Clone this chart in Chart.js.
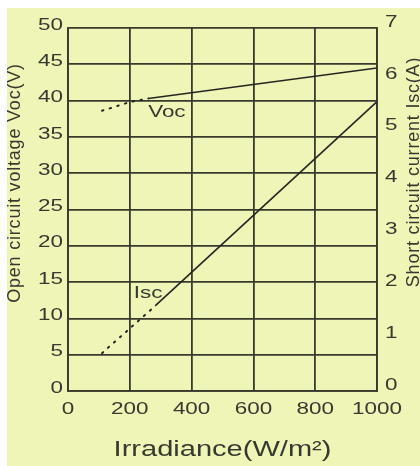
<!DOCTYPE html>
<html>
<head>
<meta charset="utf-8">
<script src="https://cdn.jsdelivr.net/npm/chart.js@4/dist/chart.umd.min.js"></script>
<style>
  html, body { margin: 0; padding: 0; background: #ffffff; }
  #wrap { position: relative; width: 420px; height: 466px; }
</style>
</head>
<body>
<div id="wrap"><canvas id="c"></canvas></div>
<script>
// ---- data ----
const xTicks = [0, 200, 400, 600, 800, 1000];                 // Irradiance (W/m²)
const vocTicks = [0, 5, 10, 15, 20, 25, 30, 35, 40, 45, 50];  // left axis (V)
const iscTicks = [0, 1, 2, 3, 4, 5, 6, 7];                    // right axis (A)

const vocSolidX = [260, 1000];
const vocSolidY = [40.3, 44.5];
const vocDotX = [110, 200, 260];
const vocDotY = [38.6, 39.8, 40.3];

const iscSolidX = [282, 1000];
const iscSolidY = [1.64, 5.58];
const iscDotX = [110, 282];
const iscDotY = [0.73, 1.64];

const seriesLabels = [
  { text: 'Voc', x: 320, y: 38.4, axis: 'y' },
  { text: 'Isc', x: 259, y: 1.89, axis: 'y2' }
];

const leftTitle = 'Open circuit voltage Voc(V)';
const rightTitle = 'Short circuit current Isc(A)';
const bottomTitle = 'Irradiance(W/m\u00B2)';

// ---- styling ----
const BG = '#eff5b6';
const GRID = '#3a3a2c';
const TXT = '#38382f';
const LINE = '#262620';
const FONT = "'Liberation Sans', Arial, sans-serif";
let textStretch = 1.32;   // reference text is drawn horizontally wide

const pts = (xs, ys) => xs.map((x, i) => ({ x: x, y: ys[i] }));

function patchText(ctx) {
  if (ctx.__patched) return;
  const orig = ctx.fillText.bind(ctx);
  ctx.fillText = function (text, x, y, maxW) {
    if (textStretch === 1) return orig(text, x, y);
    ctx.save();
    ctx.translate(x, y);
    ctx.scale(textStretch, 1);
    orig(text, 0, 0);
    ctx.restore();
  };
  ctx.__patched = true;
}

const bgPlugin = {
  id: 'bg',
  beforeDraw(chart) {
    const ctx = chart.ctx;
    patchText(ctx);
    ctx.save();
    ctx.fillStyle = '#ffffff';
    ctx.fillRect(0, 0, chart.width, chart.height);
    ctx.fillStyle = BG;
    ctx.fillRect(7, 8, chart.width - 7, chart.height - 8);
    ctx.restore();
  },
  afterDatasetsDraw(chart) {
    const ctx = chart.ctx;
    const xs = chart.scales.x;
    ctx.save();
    ctx.fillStyle = TXT;
    ctx.font = '17px ' + FONT;
    ctx.textAlign = 'center';
    ctx.textBaseline = 'middle';
    seriesLabels.forEach(l => {
      const px = xs.getPixelForValue(l.x);
      const py = chart.scales[l.axis].getPixelForValue(l.y);
      ctx.fillText(l.text, px, py);
    });
    ctx.restore();
  },
  afterDraw(chart) {
    const ctx = chart.ctx;
    const prev = textStretch;
    textStretch = 1;
    ctx.save();
    ctx.fillStyle = TXT;
    ctx.font = '18px ' + FONT;
    ctx.letterSpacing = '0.8px';
    ctx.textAlign = 'center';
    ctx.textBaseline = 'middle';
    ctx.save();
    ctx.translate(15, 183);
    ctx.rotate(-Math.PI / 2);
    ctx.fillText(leftTitle, 0, 0);
    ctx.restore();
    ctx.save();
    ctx.translate(414, 172);
    ctx.rotate(-Math.PI / 2);
    ctx.fillText(rightTitle, 0, 0);
    ctx.restore();
    ctx.restore();
    textStretch = prev;
  }
};

const plainTick = v => String(v);

new Chart(document.getElementById('c'), {
  type: 'line',
  data: {
    datasets: [
      { label: 'Voc', data: pts(vocSolidX, vocSolidY), yAxisID: 'y',
        borderColor: LINE, borderWidth: 1.6, pointRadius: 0, fill: false, tension: 0 },
      { label: 'Voc (extrapolated)', data: pts(vocDotX, vocDotY), yAxisID: 'y',
        borderColor: LINE, borderWidth: 2, borderDash: [1.5, 6.5], borderCapStyle: 'round',
        pointRadius: 0, fill: false, tension: 0 },
      { label: 'Isc', data: pts(iscSolidX, iscSolidY), yAxisID: 'y2',
        borderColor: LINE, borderWidth: 1.6, pointRadius: 0, fill: false, tension: 0 },
      { label: 'Isc (extrapolated)', data: pts(iscDotX, iscDotY), yAxisID: 'y2',
        borderColor: LINE, borderWidth: 2, borderDash: [1.5, 6.5], borderCapStyle: 'round',
        pointRadius: 0, fill: false, tension: 0 }
    ]
  },
  options: {
    responsive: true,
    maintainAspectRatio: false,
    animation: false,
    events: [],
    layout: { padding: { top: 28, left: 0, right: 0, bottom: 0 } },
    plugins: { legend: { display: false }, tooltip: { enabled: false }, title: { display: false } },
    scales: {
      x: {
        type: 'linear', position: 'bottom', min: 0, max: 1000,
        afterBuildTicks: s => { s.ticks = xTicks.map(v => ({ value: v })); },
        afterFit: s => { s.height = 75; },
        grid: { color: GRID, lineWidth: 1.8, drawTicks: false },
        border: { color: GRID, width: 1.8 },
        ticks: { color: TXT, font: { family: FONT, size: 17 }, padding: 8, autoSkip: false,
                 maxRotation: 0, callback: plainTick },
        title: { display: true, text: bottomTitle, color: TXT,
                 font: { family: FONT, size: 22 }, padding: { top: 0, bottom: 3 } }
      },
      y: {
        type: 'linear', position: 'left', min: 0, max: 50,
        afterBuildTicks: s => { s.ticks = vocTicks.map(v => ({ value: v })); },
        afterFit: s => { s.width = 68; },
        grid: { color: GRID, lineWidth: 1.8, drawTicks: false },
        border: { color: GRID, width: 1.8 },
        ticks: { color: TXT, font: { family: FONT, size: 17 }, padding: 5, autoSkip: false,
                 labelOffset: -3, callback: plainTick }
      },
      y2: {
        type: 'linear', position: 'right', min: 0, max: 7,
        afterBuildTicks: s => { s.ticks = iscTicks.map(v => ({ value: v })); },
        afterFit: s => { s.width = 43; },
        grid: { display: false, drawTicks: false },
        border: { color: GRID, width: 1.8 },
        ticks: { color: TXT, font: { family: FONT, size: 17 }, padding: 8, autoSkip: false,
                 labelOffset: -6, callback: plainTick }
      }
    }
  },
  plugins: [bgPlugin]
});
</script>
</body>
</html>
